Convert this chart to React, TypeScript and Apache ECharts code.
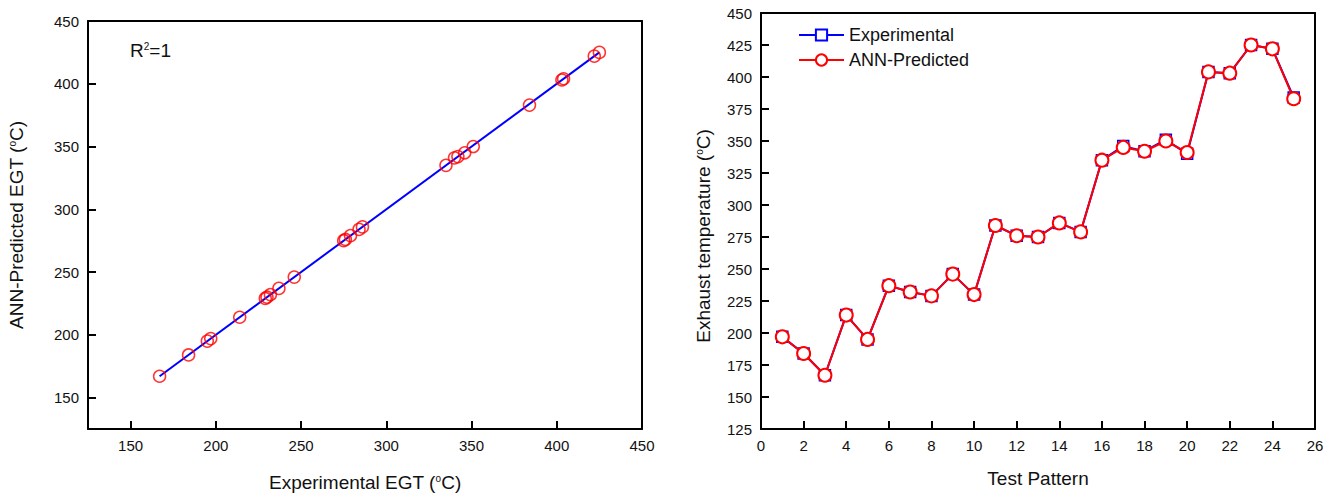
import React, { useEffect, useRef } from "react";
import * as echarts from "echarts";

const testPattern = [1, 2, 3, 4, 5, 6, 7, 8, 9, 10, 11, 12, 13, 14, 15, 16, 17, 18, 19, 20, 21, 22, 23, 24, 25];
const experimental = [197, 184, 167, 214, 195, 237, 232, 229, 246, 230, 284, 276, 275, 286, 279, 335, 346, 342, 351, 340, 404, 403, 425, 422, 384];
const predicted = [197, 184, 167, 214, 195, 237, 232, 229, 246, 230, 284, 276, 275, 286, 279, 335, 345, 342, 350, 341, 404, 403, 425, 422, 383];
const egtTicks = [150, 200, 250, 300, 350, 400, 450];
const seriesNames = ["Experimental", "ANN-Predicted"];

const FONT = "'Liberation Sans', Arial, sans-serif";
const supRich = { sup: { fontSize: 10, verticalAlign: "top", fontFamily: FONT, color: "#111" } };

export default function App() {
  const ref = useRef<HTMLDivElement>(null);
  useEffect(() => {
    if (!ref.current) return;
    const chart = echarts.init(ref.current, null, { renderer: "svg" });
    const fitMin = Math.min(...experimental);
    const fitMax = Math.max(...experimental);
    const line = { show: true, onZero: false, lineStyle: { color: "#000", width: 2 } };
    const tick = { show: true, inside: true, length: 8, lineStyle: { color: "#000", width: 2 } };
    const label = { show: true, color: "#111", fontSize: 15, fontFamily: FONT, margin: 9 };
    const nameStyle = { color: "#111", fontSize: 19, fontFamily: FONT, rich: supRich };
    const frameAxis = (gridIndex: number, position: string, min: number, max: number) => ({
      type: "value",
      gridIndex,
      position,
      min,
      max,
      axisLine: line,
      axisTick: { show: false },
      axisLabel: { show: false },
      splitLine: { show: false },
    });
    chart.setOption({
      animation: false,
      backgroundColor: "#fff",
      textStyle: { fontFamily: FONT },
      grid: [
        { left: 88, top: 21, width: 554, height: 412 },
        { left: 761, top: 13, width: 554, height: 416 },
      ],
      xAxis: [
        {
          type: "value",
          gridIndex: 0,
          position: "bottom",
          min: 125,
          max: 450,
          interval: 25,
          axisLine: line,
          axisTick: { ...tick, customValues: egtTicks },
          axisLabel: { ...label, customValues: egtTicks },
          splitLine: { show: false },
          name: "Experimental EGT ({sup|o}C)",
          nameLocation: "middle",
          nameGap: 44,
          nameTextStyle: nameStyle,
        },
        {
          type: "value",
          gridIndex: 1,
          position: "bottom",
          min: 0,
          max: 26,
          interval: 2,
          axisLine: line,
          axisTick: { ...tick },
          axisLabel: { ...label },
          splitLine: { show: false },
          name: "Test Pattern",
          nameLocation: "middle",
          nameGap: 40,
          nameTextStyle: nameStyle,
        },
        frameAxis(0, "top", 125, 450),
        frameAxis(1, "top", 0, 26),
      ],
      yAxis: [
        {
          type: "value",
          gridIndex: 0,
          position: "left",
          min: 125,
          max: 450,
          interval: 25,
          axisLine: line,
          axisTick: { ...tick, customValues: egtTicks },
          axisLabel: { ...label, customValues: egtTicks },
          splitLine: { show: false },
          name: "ANN-Predicted EGT ({sup|o}C)",
          nameLocation: "middle",
          nameGap: 62,
          nameTextStyle: nameStyle,
        },
        {
          type: "value",
          gridIndex: 1,
          position: "left",
          min: 125,
          max: 450,
          interval: 25,
          axisLine: line,
          axisTick: { ...tick },
          axisLabel: { ...label },
          splitLine: { show: false },
          name: "Exhaust temperature ({sup|o}C)",
          nameLocation: "middle",
          nameGap: 48,
          nameTextStyle: { ...nameStyle, padding: [0, 30, 0, 0] },
        },
        frameAxis(0, "right", 125, 450),
        frameAxis(1, "right", 125, 450),
      ],
      legend: {
        left: 793,
        top: 21,
        orient: "vertical",
        itemWidth: 45,
        itemHeight: 14,
        itemGap: 7,
        data: seriesNames,
        textStyle: { fontSize: 18, color: "#111", fontFamily: FONT },
      },
      graphic: [
        {
          type: "text",
          left: 130,
          top: 41,
          style: {
            text: "R{sup|2}=1",
            fontSize: 19,
            fontFamily: FONT,
            fill: "#111",
            rich: supRich,
          },
        },
      ],
      series: [
        {
          type: "line",
          name: "fit",
          xAxisIndex: 0,
          yAxisIndex: 0,
          data: [
            [fitMin, fitMin],
            [fitMax, fitMax],
          ],
          showSymbol: false,
          symbol: "none",
          lineStyle: { color: "#0000ff", width: 2 },
          silent: true,
          z: 2,
        },
        {
          type: "scatter",
          name: "scatter",
          xAxisIndex: 0,
          yAxisIndex: 0,
          data: experimental.map((v, i) => [v, predicted[i]]),
          symbol: "circle",
          symbolSize: 12,
          itemStyle: { color: "rgba(0,0,0,0)", borderColor: "#ff0000", borderWidth: 1.5 },
          z: 3,
        },
        {
          type: "line",
          name: seriesNames[0],
          xAxisIndex: 1,
          yAxisIndex: 1,
          data: testPattern.map((t, i) => [t, experimental[i]]),
          symbol: "rect",
          symbolSize: 11,
          showAllSymbol: true,
          itemStyle: { color: "#fff", borderColor: "#0000ff", borderWidth: 1.5 },
          lineStyle: { color: "#0000ff", width: 2 },
          z: 2,
        },
        {
          type: "line",
          name: seriesNames[1],
          xAxisIndex: 1,
          yAxisIndex: 1,
          data: testPattern.map((t, i) => [t, predicted[i]]),
          symbol: "circle",
          symbolSize: 13,
          showAllSymbol: true,
          itemStyle: { color: "#fff", borderColor: "#ff0000", borderWidth: 2 },
          lineStyle: { color: "#ff0000", width: 2 },
          z: 3,
        },
      ],
    });
    return () => chart.dispose();
  }, []);
  return (
    <div
      ref={ref}
      style={{ position: "fixed", left: 0, top: 0, width: 1338, height: 497, background: "#fff" }}
    />
  );
}
